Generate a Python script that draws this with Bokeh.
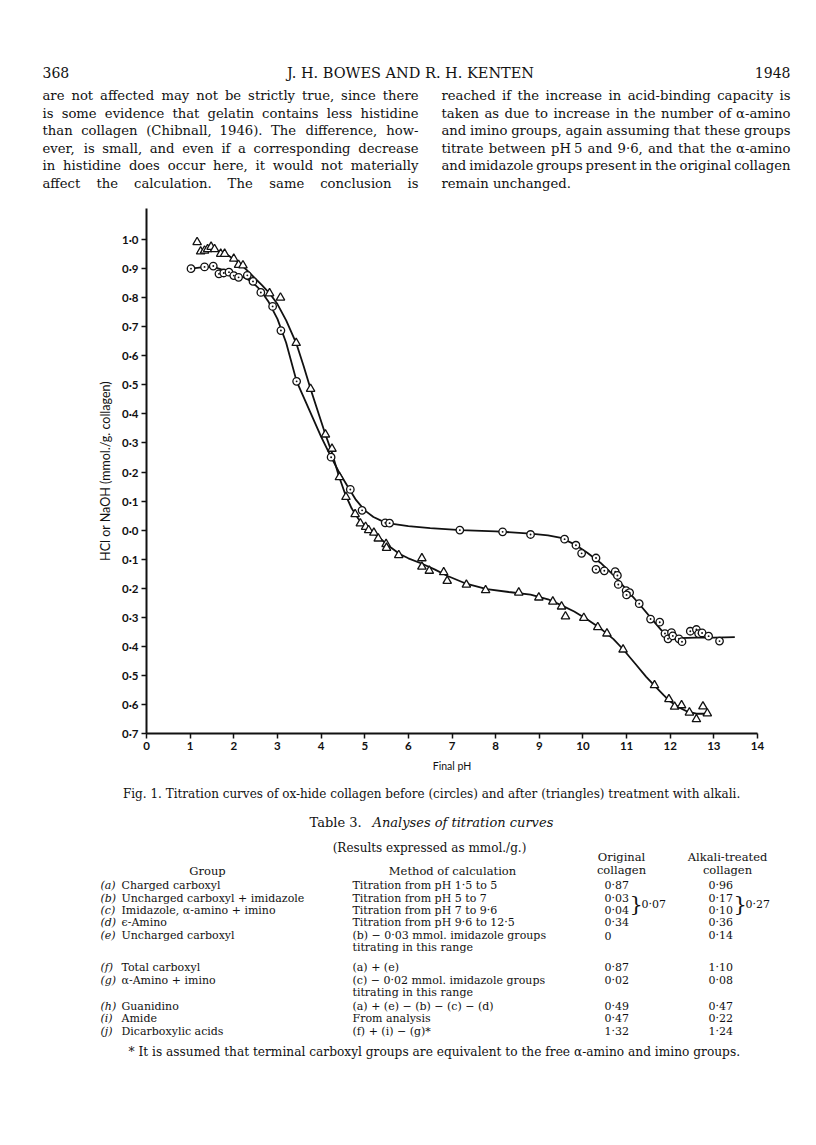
from bokeh.plotting import figure
from bokeh.models import FixedTicker, Range1d, LinearAxis
from bokeh.embed import file_html
from bokeh.resources import INLINE
from bokeh.core.properties import value

INK = "#111111"

# ---------------- chart data ----------------
orig_ph = [1.02, 1.33, 1.53, 1.66, 1.77, 1.89, 2.00, 2.11, 2.31, 2.44, 2.62, 2.89, 3.08,
           3.44, 4.23, 4.67, 4.94, 5.47, 5.57, 7.18, 8.16, 8.80, 9.58, 9.84, 9.97, 10.30,
           10.30, 10.49, 10.74, 10.79, 10.81, 10.99, 11.07, 11.00, 11.29, 11.55, 11.76,
           11.88, 11.95, 12.03, 12.06, 12.20, 12.27, 12.46, 12.60, 12.65, 12.73, 12.88, 13.13]
orig_val = [0.900, 0.906, 0.909, 0.882, 0.885, 0.888, 0.876, 0.870, 0.877, 0.856, 0.818,
            0.770, 0.687, 0.512, 0.251, 0.140, 0.068, 0.025, 0.024, 0.000, -0.006, -0.015,
            -0.031, -0.052, -0.080, -0.096, -0.135, -0.140, -0.143, -0.156, -0.187, -0.208,
            -0.215, -0.223, -0.253, -0.306, -0.317, -0.356, -0.374, -0.353, -0.364, -0.374,
            -0.384, -0.348, -0.342, -0.356, -0.354, -0.365, -0.382]

alk_ph = [1.16, 1.24, 1.33, 1.40, 1.48, 1.56, 1.70, 1.79, 2.00, 2.11, 2.21, 2.82, 3.07,
          3.43, 3.76, 4.10, 4.25, 4.42, 4.57, 4.78, 4.90, 5.02, 5.09, 5.21, 5.31, 5.49,
          5.50, 5.78, 6.31, 6.31, 6.48, 6.81, 6.89, 7.33, 7.77, 8.53, 8.99, 9.31, 9.51,
          9.60, 10.02, 10.34, 10.55, 10.92, 11.64, 11.97, 12.10, 12.26, 12.44, 12.60,
          12.75, 12.85]
alk_val = [0.991, 0.959, 0.962, 0.967, 0.975, 0.967, 0.951, 0.951, 0.934, 0.913, 0.911,
           0.815, 0.800, 0.644, 0.486, 0.329, 0.280, 0.182, 0.114, 0.055, 0.023, 0.011,
           0.000, -0.009, -0.029, -0.048, -0.061, -0.086, -0.097, -0.126, -0.140, -0.145,
           -0.175, -0.188, -0.207, -0.215, -0.232, -0.246, -0.263, -0.297, -0.302, -0.334,
           -0.356, -0.411, -0.534, -0.582, -0.608, -0.603, -0.628, -0.651, -0.607, -0.631]

# hand-drawn smooth curves
orig_curve_ph = [1.02, 1.3, 1.55, 1.8, 2.0, 2.2, 2.4, 2.6, 2.8, 3.0, 3.2, 3.44, 3.6, 3.8,
                 4.0, 4.23, 4.4, 4.6, 4.8, 5.0, 5.2, 5.4, 5.6, 6.0, 6.5, 7.2, 8.0, 8.8,
                 9.2, 9.5, 9.8, 10.1, 10.4, 10.7, 11.0, 11.3, 11.6, 11.8, 12.0, 12.2,
                 12.6, 13.0, 13.48]
orig_curve_val = [0.900, 0.905, 0.905, 0.893, 0.882, 0.872, 0.857, 0.828, 0.785, 0.727,
                  0.645, 0.512, 0.458, 0.390, 0.322, 0.251, 0.203, 0.153, 0.104, 0.068,
                  0.045, 0.031, 0.022, 0.014, 0.007, 0.000, -0.004, -0.012, -0.018,
                  -0.027, -0.048, -0.078, -0.112, -0.155, -0.205, -0.256, -0.310, -0.345,
                  -0.366, -0.372, -0.370, -0.370, -0.368]

alk_curve_ph = [1.16, 1.3, 1.5, 1.7, 1.9, 2.1, 2.3, 2.5, 2.65, 2.82, 3.0, 3.2, 3.43, 3.6,
                3.76, 3.95, 4.10, 4.25, 4.4, 4.55, 4.7, 4.85, 5.0, 5.2, 5.4, 5.6, 5.8,
                6.0, 6.3, 6.6, 6.9, 7.3, 7.8, 8.3, 8.8, 9.2, 9.5, 9.8, 10.1, 10.4, 10.7,
                10.92, 11.2, 11.45, 11.64, 11.85, 12.0, 12.2, 12.4, 12.6, 12.85]
alk_curve_val = [0.957, 0.963, 0.968, 0.958, 0.943, 0.922, 0.895, 0.865, 0.842, 0.815,
                 0.778, 0.722, 0.644, 0.565, 0.486, 0.398, 0.329, 0.266, 0.190, 0.125,
                 0.075, 0.040, 0.012, -0.010, -0.035, -0.060, -0.082, -0.097, -0.115,
                 -0.135, -0.158, -0.183, -0.203, -0.213, -0.222, -0.238, -0.258, -0.280,
                 -0.308, -0.338, -0.375, -0.410, -0.460, -0.505, -0.535, -0.568, -0.590,
                 -0.610, -0.625, -0.632, -0.632]

x_ticks = [0, 1, 2, 3, 4, 5, 6, 7, 8, 9, 10, 11, 12, 13, 14]
y_ticks = [1.0, 0.9, 0.8, 0.7, 0.6, 0.5, 0.4, 0.3, 0.2, 0.1, 0.0,
           -0.1, -0.2, -0.3, -0.4, -0.5, -0.6, -0.7]
y_tick_labels = ["1·0", "0·9", "0·8", "0·7", "0·6", "0·5", "0·4", "0·3", "0·2", "0·1",
                 "0·0", "0·1", "0·2", "0·3", "0·4", "0·5", "0·6", "0·7"]

# ---------------- page text ----------------
header_left = "368"
header_mid = "J. H. BOWES AND R. H. KENTEN"
header_right = "1948"

left_col = ["are not affected may not be strictly true, since there",
            "is some evidence that gelatin contains less histidine",
            "than collagen (Chibnall, 1946). The difference, how-",
            "ever, is small, and even if a corresponding decrease",
            "in histidine does occur here, it would not materially",
            "affect the calculation. The same conclusion is"]
right_col = ["reached if the increase in acid-binding capacity is",
             "taken as due to increase in the number of α-amino",
             "and imino groups, again assuming that these groups",
             "titrate between pH 5 and 9·6, and that the α-amino",
             "and imidazole groups present in the original collagen",
             "remain unchanged."]

caption = "Fig. 1.  Titration curves of ox-hide collagen before (circles) and after (triangles) treatment with alkali."
table_title_a = "Table 3."
table_title_b = "Analyses of titration curves"
table_sub = "(Results expressed as mmol./g.)"

row_keys = ["(a)", "(b)", "(c)", "(d)", "(e)", "(f)", "(g)", "(h)", "(i)", "(j)"]
row_groups = ["Charged carboxyl", "Uncharged carboxyl + imidazole",
              "Imidazole, α-amino + imino", "ϵ-Amino", "Uncharged carboxyl",
              "Total carboxyl", "α-Amino + imino", "Guanidino", "Amide",
              "Dicarboxylic acids"]
row_methods = [["Titration from pH 1·5 to 5"], ["Titration from pH 5 to 7"],
               ["Titration from pH 7 to 9·6"], ["Titration from pH 9·6 to 12·5"],
               ["(b) − 0·03 mmol. imidazole groups", " titrating in this range"],
               ["(a) + (e)"],
               ["(c) − 0·02 mmol. imidazole groups", " titrating in this range"],
               ["(a) + (e) − (b) − (c) − (d)"], ["From analysis"],
               ["(f) + (i) − (g)*"]]
row_original = ["0·87", "0·03", "0·04", "0·34", "0", "0·87", "0·02", "0·49", "0·47", "1·32"]
row_alkali = ["0·96", "0·17", "0·10", "0·36", "0·14", "1·10", "0·08", "0·47", "0·22", "1·24"]
sum_bc_original = "0·07"
sum_bc_alkali = "0·27"
footnote = "* It is assumed that terminal carboxyl groups are equivalent to the free α-amino and imino groups."

SERIF = "DejaVu Serif"

# ---------------- page geometry (page pixels; the whole canvas is the frame) -------------
W, H = 812, 1140
AX0, AX1 = 146, 757      # page x of pH 0 and pH 14
AY0, AY1 = 208, 733      # page y of the axis top (1.107) and the x axis (-0.7)
X0, X1 = 0.0, 14.0
Y0, Y1 = -0.7, 1.107
KX = (X1 - X0) / (AX1 - AX0)
KY = (Y1 - Y0) / (AY1 - AY0)

p = figure(width=W, height=H,
           x_range=Range1d(X0 - AX0 * KX, X1 + (W - AX1) * KX),
           y_range=Range1d(Y0 - (H - AY1) * KY, Y1 + AY0 * KY),
           x_axis_type=None, y_axis_type=None,
           toolbar_location=None, output_backend="svg", min_border=0)
p.outline_line_color = None
p.background_fill_color = "white"
p.border_fill_color = "white"


def dx(px):
    return X0 + (px - AX0) * KX


def dy(py):
    return Y0 + (AY1 - py) * KY


groups = {}


def put(px, py, s, size, align="left", style="normal", font=SERIF):
    key = (size, align, style, font)
    g = groups.setdefault(key, ([], [], []))
    g[0].append(dx(px)); g[1].append(dy(py)); g[2].append(s)


# approximate DejaVu Serif advance widths (per 1000 em) used to justify lines
CW = dict(a=596, b=640, c=560, d=640, e=592, f=370, g=640, h=644, i=320, j=310, k=606,
          l=320, m=948, n=644, o=602, p=640, q=640, r=478, s=513, t=402, u=644, v=565,
          w=856, x=581, y=565, z=527)


def tw(s, size):
    w = 0
    for ch in s:
        if ch in CW:
            w += CW[ch]
        elif ch.isupper():
            w += 720
        elif ch.isdigit():
            w += 636
        elif ch in ".,:;·":
            w += 318
        elif ch in "()":
            w += 390
        elif ch == "-":
            w += 338
        elif ch == " ":
            w += 318
        else:
            w += 620
    return w * size / 1000.0


def justify(line, x0, x1, y, size):
    words = line.split(" ")
    widths = [tw(w, size) for w in words]
    gap = (x1 - x0 - sum(widths)) / max(len(words) - 1, 1)
    cx = x0
    for w, wd in zip(words[:-1], widths[:-1]):
        put(cx, y, w, size)
        cx += wd + gap
    put(x1, y, words[-1], size, align="right")


# ---------------- chart ----------------
p.line(orig_curve_ph, orig_curve_val, line_width=1.8, line_color=INK)
p.line(alk_curve_ph, alk_curve_val, line_width=1.8, line_color=INK)
p.scatter(orig_ph, orig_val, marker="circle_dot", size=7.5, line_color=INK,
          fill_color="white", line_width=1.3)
p.scatter(alk_ph, alk_val, marker="triangle", size=8.5, line_color=INK,
          fill_color="white", line_width=1.3)

xaxis = LinearAxis(ticker=FixedTicker(ticks=x_ticks), fixed_location=Y0, bounds=(X0, X1),
                   axis_label="Final pH")
yaxis = LinearAxis(ticker=FixedTicker(ticks=y_ticks), fixed_location=X0, bounds=(Y0, Y1),
                   axis_label="HCl or NaOH (mmol./g. collagen)",
                   major_label_overrides=dict(zip(y_ticks, y_tick_labels)))
for ax in (xaxis, yaxis):
    ax.axis_line_width = 2
    ax.axis_line_color = INK
    ax.major_tick_line_color = INK
    ax.major_tick_line_width = 1.5
    ax.major_tick_in = 0
    ax.major_tick_out = 5
    ax.minor_tick_line_color = None
    ax.major_label_text_font = "Lato"
    ax.major_label_text_font_style = "bold"
    ax.major_label_text_font_size = "11.5px"
    ax.major_label_text_color = INK
    ax.major_label_standoff = 3
    ax.axis_label_text_font = "Lato"
    ax.axis_label_text_font_style = "normal"
    ax.axis_label_text_color = INK
xaxis.axis_label_text_font_size = "10.5px"
xaxis.axis_label_standoff = 7
yaxis.axis_label_text_font_size = "12.5px"
yaxis.axis_label_standoff = 6
p.add_layout(xaxis, "below")
p.add_layout(yaxis, "left")

# ---------------- text above the chart ----------------
put(42, 72, header_left, 14)
put(410, 72, header_mid, 14.5, align="center")
put(790, 72, header_right, 14, align="right")
line_y = [95, 112.5, 130, 147.5, 165, 182.5]
BODY = 13.2
for i, ln in enumerate(left_col):
    justify(ln, 42, 418, line_y[i], BODY)
for i, ln in enumerate(right_col):
    if i < len(right_col) - 1:
        justify(ln, 441, 790, line_y[i], BODY)
    else:
        put(441, line_y[i], ln, BODY)

# ---------------- caption and table ----------------
put(433, 793, caption, 12, align="center")
put(309, 822, table_title_a, 13)
put(372, 822, table_title_b, 13, style="italic")
put(429, 847, table_sub, 12, align="center")
put(621, 856, "Original", 11.5, align="center")
put(621, 869, "collagen", 11.5, align="center")
put(727, 856, "Alkali-treated", 11.5, align="center")
put(727, 869, "collagen", 11.5, align="center")
put(207, 870, "Group", 11.5, align="center")
put(452, 870, "Method of calculation", 11.5, align="center")

row_y = [885, 897.5, 910, 922, 935, 967, 980, 1006, 1018, 1030.5]
TS = 11
for i in range(len(row_keys)):
    y = row_y[i]
    put(100, y, row_keys[i], TS, style="italic")
    put(121, y, row_groups[i], TS)
    for k, m in enumerate(row_methods[i]):
        put(352, y + 12 * k, m, TS)
    put(604, y, row_original[i], TS)
    put(708, y, row_alkali[i], TS)

brace_y = (row_y[1] + row_y[2]) / 2
put(629, brace_y, "}", 21)
put(641, brace_y, sum_bc_original, TS)
put(733, brace_y, "}", 21)
put(745, brace_y, sum_bc_alkali, TS)

put(128, 1051, footnote, 12.2)

for (size, align, style, font), (xs, ys, ts) in groups.items():
    p.text(x=xs, y=ys, text=ts, text_font=value(font), text_font_size=f"{size}px",
           text_font_style=style, text_align=align, text_baseline="middle",
           text_color=INK)

open("out.html", "w").write(file_html(p, INLINE))
